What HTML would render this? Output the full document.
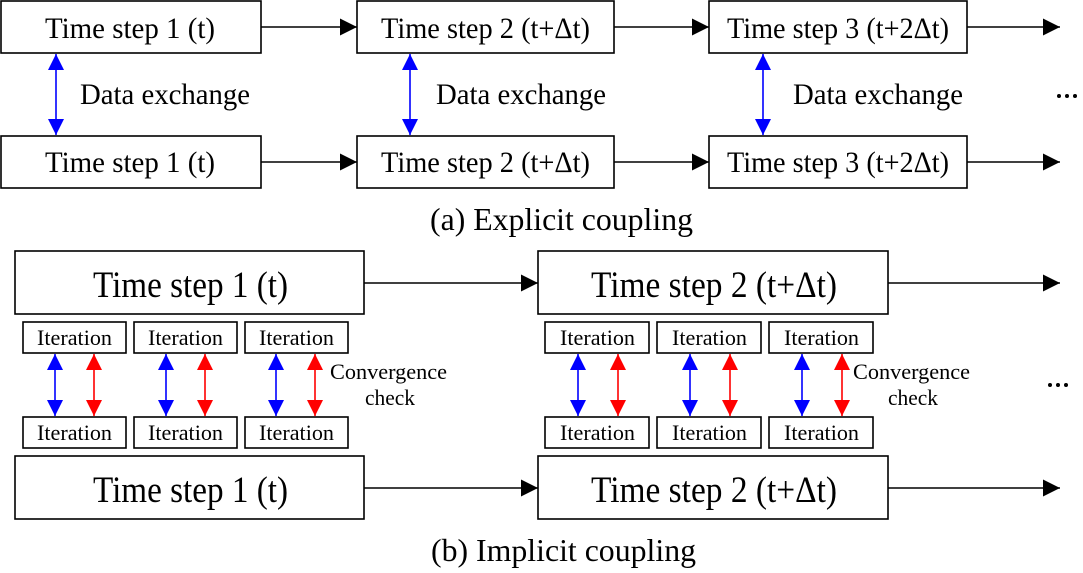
<!DOCTYPE html>
<html><head><meta charset="utf-8"><style>
html,body{margin:0;padding:0;background:#fff}
svg{display:block}
text{font-family:"Liberation Serif","Times New Roman",serif;fill:#000}
</style></head><body>
<svg width="1083" height="573" viewBox="0 0 1083 573" xmlns="http://www.w3.org/2000/svg">
<defs>
<marker id="ak" viewBox="0 0 10 10" refX="10" refY="5" markerWidth="20" markerHeight="17" markerUnits="userSpaceOnUse" orient="auto"><path d="M0,0L10,5L0,10z" fill="#000"/></marker>
<marker id="ab" viewBox="0 0 10 10" refX="10" refY="5" markerWidth="16" markerHeight="16" markerUnits="userSpaceOnUse" orient="auto-start-reverse"><path d="M0,0L10,5L0,10z" fill="#00f"/></marker>
<marker id="ar" viewBox="0 0 10 10" refX="10" refY="5" markerWidth="16" markerHeight="16" markerUnits="userSpaceOnUse" orient="auto-start-reverse"><path d="M0,0L10,5L0,10z" fill="#f00"/></marker>
</defs>
<g fill="none" stroke="#000" stroke-width="1.6">
<rect x="1" y="1" width="260" height="52"/>
<rect x="357" y="1" width="257" height="52"/>
<rect x="709" y="1" width="258" height="52"/>
<rect x="1" y="136" width="260" height="52"/>
<rect x="357" y="136" width="257" height="52"/>
<rect x="709" y="136" width="258" height="52"/>
<line x1="261" y1="27" x2="357" y2="27" marker-end="url(#ak)"/>
<line x1="614" y1="27" x2="709" y2="27" marker-end="url(#ak)"/>
<line x1="967" y1="27" x2="1060" y2="27" marker-end="url(#ak)"/>
<line x1="261" y1="162" x2="357" y2="162" marker-end="url(#ak)"/>
<line x1="614" y1="162" x2="709" y2="162" marker-end="url(#ak)"/>
<line x1="967" y1="162" x2="1060" y2="162" marker-end="url(#ak)"/>

<rect x="15" y="251" width="349" height="63"/>
<rect x="538" y="251" width="350" height="63"/>
<rect x="15" y="456" width="349" height="63"/>
<rect x="538" y="456" width="350" height="63"/>
<line x1="364" y1="283" x2="538" y2="283" marker-end="url(#ak)"/>
<line x1="888" y1="283" x2="1060" y2="283" marker-end="url(#ak)"/>
<line x1="364" y1="488" x2="538" y2="488" marker-end="url(#ak)"/>
<line x1="888" y1="488" x2="1060" y2="488" marker-end="url(#ak)"/>

<rect x="23" y="322" width="103" height="31"/>
<rect x="134" y="322" width="103" height="31"/>
<rect x="245" y="322" width="103" height="31"/>
<rect x="23" y="417" width="103" height="31"/>
<rect x="134" y="417" width="103" height="31"/>
<rect x="245" y="417" width="103" height="31"/>
<rect x="545" y="322" width="104" height="31"/>
<rect x="657" y="322" width="104" height="31"/>
<rect x="769" y="322" width="104" height="31"/>
<rect x="545" y="417" width="104" height="31"/>
<rect x="657" y="417" width="104" height="31"/>
<rect x="769" y="417" width="104" height="31"/>
</g>
<g stroke="#00f" stroke-width="1.6">
<line x1="56" y1="54" x2="56" y2="135" marker-start="url(#ab)" marker-end="url(#ab)"/>
<line x1="410" y1="54" x2="410" y2="135" marker-start="url(#ab)" marker-end="url(#ab)"/>
<line x1="763" y1="54" x2="763" y2="135" marker-start="url(#ab)" marker-end="url(#ab)"/>
<line x1="55" y1="354" x2="55" y2="416" marker-start="url(#ab)" marker-end="url(#ab)"/>
<line x1="166" y1="354" x2="166" y2="416" marker-start="url(#ab)" marker-end="url(#ab)"/>
<line x1="276" y1="354" x2="276" y2="416" marker-start="url(#ab)" marker-end="url(#ab)"/>
<line x1="578" y1="354" x2="578" y2="416" marker-start="url(#ab)" marker-end="url(#ab)"/>
<line x1="690" y1="354" x2="690" y2="416" marker-start="url(#ab)" marker-end="url(#ab)"/>
<line x1="802" y1="354" x2="802" y2="416" marker-start="url(#ab)" marker-end="url(#ab)"/>
</g>
<g stroke="#f00" stroke-width="1.6">
<line x1="94" y1="354" x2="94" y2="416" marker-start="url(#ar)" marker-end="url(#ar)"/>
<line x1="205" y1="354" x2="205" y2="416" marker-start="url(#ar)" marker-end="url(#ar)"/>
<line x1="315" y1="354" x2="315" y2="416" marker-start="url(#ar)" marker-end="url(#ar)"/>
<line x1="618" y1="354" x2="618" y2="416" marker-start="url(#ar)" marker-end="url(#ar)"/>
<line x1="730" y1="354" x2="730" y2="416" marker-start="url(#ar)" marker-end="url(#ar)"/>
<line x1="842" y1="354" x2="842" y2="416" marker-start="url(#ar)" marker-end="url(#ar)"/>
</g>
<g font-size="30">
<text x="45" y="38" textLength="170" lengthAdjust="spacingAndGlyphs">Time step 1 (t)</text>
<text x="381" y="38" textLength="209" lengthAdjust="spacingAndGlyphs">Time step 2 (t+Δt)</text>
<text x="727" y="38" textLength="222" lengthAdjust="spacingAndGlyphs">Time step 3 (t+2Δt)</text>
<text x="45" y="172" textLength="170" lengthAdjust="spacingAndGlyphs">Time step 1 (t)</text>
<text x="381" y="172" textLength="209" lengthAdjust="spacingAndGlyphs">Time step 2 (t+Δt)</text>
<text x="727" y="172" textLength="222" lengthAdjust="spacingAndGlyphs">Time step 3 (t+2Δt)</text>
<text x="80" y="104" textLength="170" lengthAdjust="spacingAndGlyphs">Data exchange</text>
<text x="436" y="104" textLength="170" lengthAdjust="spacingAndGlyphs">Data exchange</text>
<text x="793" y="104" textLength="170" lengthAdjust="spacingAndGlyphs">Data exchange</text>
</g>
<g fill="#000">
<circle cx="1059" cy="96" r="2"/><circle cx="1067" cy="96" r="2"/><circle cx="1075" cy="96" r="2"/>
<circle cx="1050" cy="385" r="2"/><circle cx="1058" cy="385" r="2"/><circle cx="1066" cy="385" r="2"/>
</g>
<g font-size="32">
<text x="430" y="230" textLength="263" lengthAdjust="spacingAndGlyphs">(a) Explicit coupling</text>
<text x="431" y="561" textLength="265" lengthAdjust="spacingAndGlyphs">(b) Implicit coupling</text>
</g>
<g font-size="37">
<text x="93" y="297" textLength="195" lengthAdjust="spacingAndGlyphs">Time step 1 (t)</text>
<text x="591" y="297" textLength="246" lengthAdjust="spacingAndGlyphs">Time step 2 (t+Δt)</text>
<text x="93" y="502" textLength="195" lengthAdjust="spacingAndGlyphs">Time step 1 (t)</text>
<text x="591" y="502" textLength="246" lengthAdjust="spacingAndGlyphs">Time step 2 (t+Δt)</text>
</g>
<g font-size="22">
<text x="37" y="345" textLength="75" lengthAdjust="spacingAndGlyphs">Iteration</text>
<text x="148" y="345" textLength="75" lengthAdjust="spacingAndGlyphs">Iteration</text>
<text x="259" y="345" textLength="75" lengthAdjust="spacingAndGlyphs">Iteration</text>
<text x="37" y="440" textLength="75" lengthAdjust="spacingAndGlyphs">Iteration</text>
<text x="148" y="440" textLength="75" lengthAdjust="spacingAndGlyphs">Iteration</text>
<text x="259" y="440" textLength="75" lengthAdjust="spacingAndGlyphs">Iteration</text>
<text x="560" y="345" textLength="75" lengthAdjust="spacingAndGlyphs">Iteration</text>
<text x="672" y="345" textLength="75" lengthAdjust="spacingAndGlyphs">Iteration</text>
<text x="784" y="345" textLength="75" lengthAdjust="spacingAndGlyphs">Iteration</text>
<text x="560" y="440" textLength="75" lengthAdjust="spacingAndGlyphs">Iteration</text>
<text x="672" y="440" textLength="75" lengthAdjust="spacingAndGlyphs">Iteration</text>
<text x="784" y="440" textLength="75" lengthAdjust="spacingAndGlyphs">Iteration</text>
<text x="330" y="379" textLength="117" lengthAdjust="spacingAndGlyphs">Convergence</text>
<text x="365" y="405" textLength="50" lengthAdjust="spacingAndGlyphs">check</text>
<text x="853" y="379" textLength="117" lengthAdjust="spacingAndGlyphs">Convergence</text>
<text x="888" y="405" textLength="50" lengthAdjust="spacingAndGlyphs">check</text>
</g>
</svg>
</body></html>
